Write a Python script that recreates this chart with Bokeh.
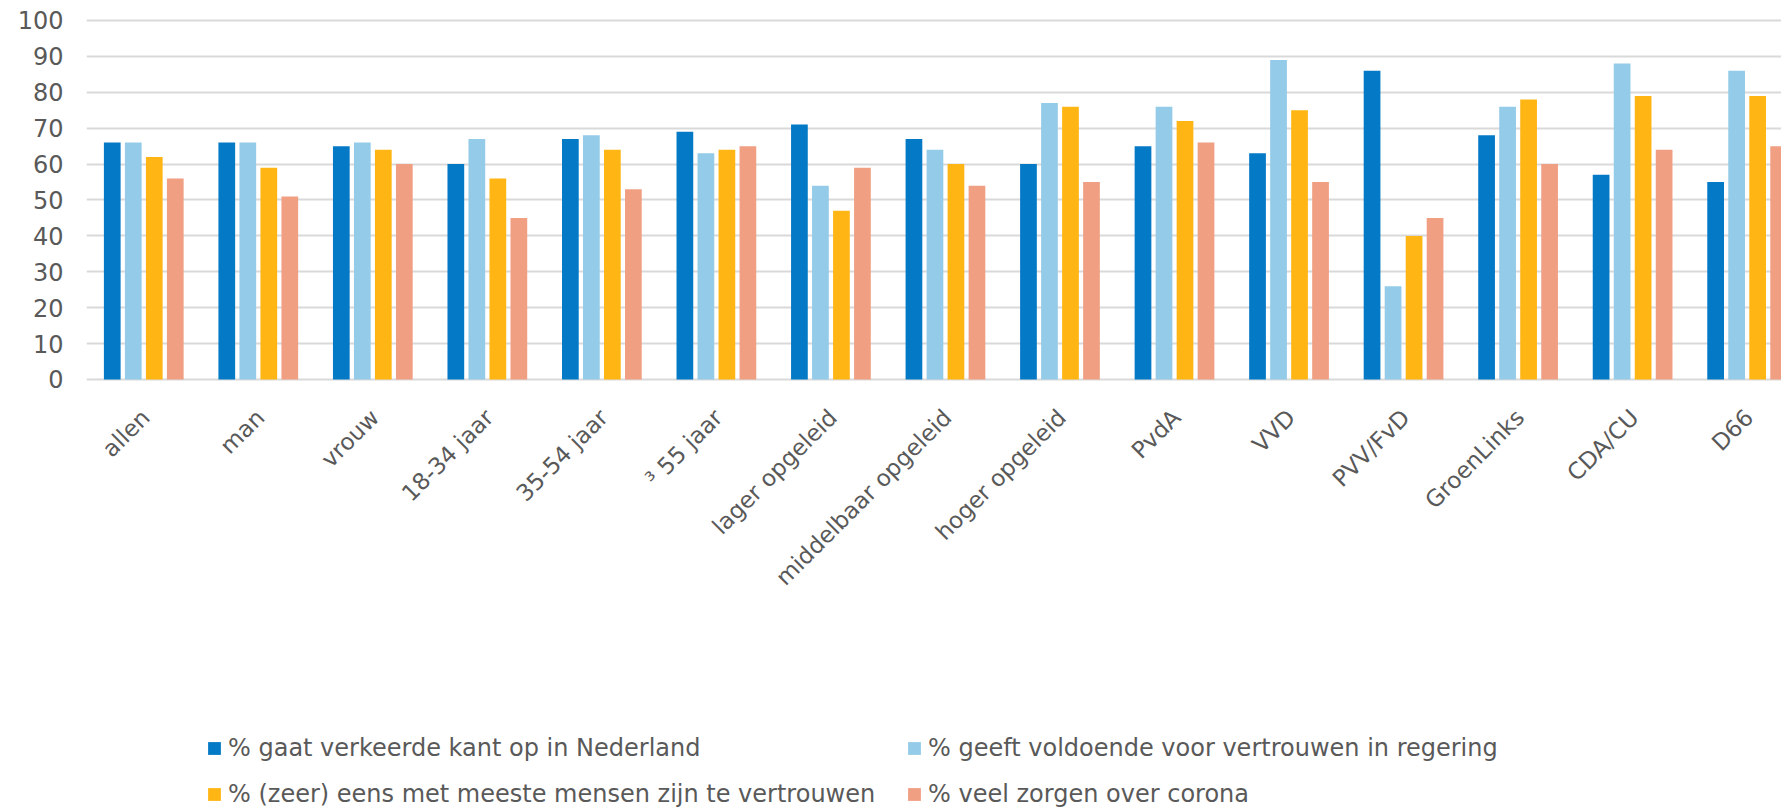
import math
from bokeh.plotting import figure
from bokeh.models import Range1d, FixedTicker, Legend, LegendItem, ColumnDataSource
from bokeh.core.properties import value
from bokeh.transform import dodge
from bokeh.embed import file_html
from bokeh.resources import INLINE

categories = ["allen", "man", "vrouw", "18-34 jaar", "35-54 jaar", "³ 55 jaar",
              "lager opgeleid", "middelbaar opgeleid", "hoger opgeleid", "PvdA",
              "VVD", "PVV/FvD", "GroenLinks", "CDA/CU", "D66"]
series_names = ["% gaat verkeerde kant op in Nederland",
                "% geeft voldoende voor vertrouwen in regering",
                "% (zeer) eens met meeste mensen zijn te vertrouwen",
                "% veel zorgen over corona"]
verkeerde_kant = [66, 66, 65, 60, 67, 69, 71, 67, 60, 65, 63, 86, 68, 57, 55]
vertrouwen_regering = [66, 66, 66, 67, 68, 63, 54, 64, 77, 76, 89, 26, 76, 88, 86]
mensen_vertrouwen = [62, 59, 64, 56, 64, 64, 47, 60, 76, 72, 75, 40, 78, 79, 79]
zorgen_corona = [56, 51, 60, 45, 53, 65, 59, 54, 55, 66, 55, 45, 60, 64, 65]
y_ticks = [0, 10, 20, 30, 40, 50, 60, 70, 80, 90, 100]

colors = ["#0479C6", "#93CBE8", "#FFB615", "#F09F83"]

xpos = [i + 0.5 for i in range(len(categories))]
src = ColumnDataSource(dict(x=xpos, cat=categories, s0=verkeerde_kant, s1=vertrouwen_regering,
                            s2=mensen_vertrouwen, s3=zorgen_corona))

p = figure(width=1781, height=808, output_backend="svg", toolbar_location=None,
           x_range=Range1d(0, 14.80), y_range=Range1d(-119.5, 101.11),
           x_axis_location=None,
           min_border_left=86, min_border_top=16, min_border_right=0,
           min_border_bottom=0, background_fill_color="white",
           border_fill_color="white", outline_line_color=None)

pitch = 0.1834
bw = 0.146
offsets = [-1.5 * pitch, -0.5 * pitch, 0.5 * pitch, 1.5 * pitch]
renderers = []
for k in range(4):
    r = p.vbar(x=dodge("x", offsets[k], range=p.x_range), top="s%d" % k, bottom=0,
               width=bw, source=src, fill_color=colors[k], line_color=None)
    renderers.append(r)

text_color = "#595959"
font = "DejaVu Sans"

# category labels under the bars
p.text(x="x", y=0, text="cat", source=src, angle=math.pi / 4,
       text_align="right", text_baseline="middle", x_offset=2, y_offset=34,
       text_font=value(font), text_font_size="23px", text_color=text_color)

p.xgrid.visible = False
p.ygrid.ticker = FixedTicker(ticks=y_ticks)
p.ygrid.grid_line_color = "#D9D9D9"
p.ygrid.grid_line_width = 2

p.yaxis.ticker = FixedTicker(ticks=y_ticks)
p.yaxis.axis_line_color = None
p.yaxis.major_tick_line_color = None
p.yaxis.minor_tick_line_color = None
p.yaxis.major_tick_out = 0
p.yaxis.major_tick_in = 0
p.yaxis.major_label_standoff = 23
p.yaxis.major_label_text_font = font
p.yaxis.major_label_text_font_size = "24px"
p.yaxis.major_label_text_color = text_color


def make_legend(idx, loc):
    return Legend(items=[LegendItem(label=series_names[i], renderers=[renderers[i]]) for i in idx],
                  location=loc, orientation="vertical", spacing=18, padding=0, margin=0,
                  glyph_width=16, glyph_height=16, label_standoff=6, label_height=24,
                  label_text_font=font, label_text_font_size="24px",
                  label_text_color=text_color, border_line_color=None,
                  background_fill_alpha=0)


p.add_layout(make_legend([0, 2], (120, 0)))
p.add_layout(make_legend([1, 3], (820, 0)))

open("out.html", "w").write(file_html(p, INLINE))
